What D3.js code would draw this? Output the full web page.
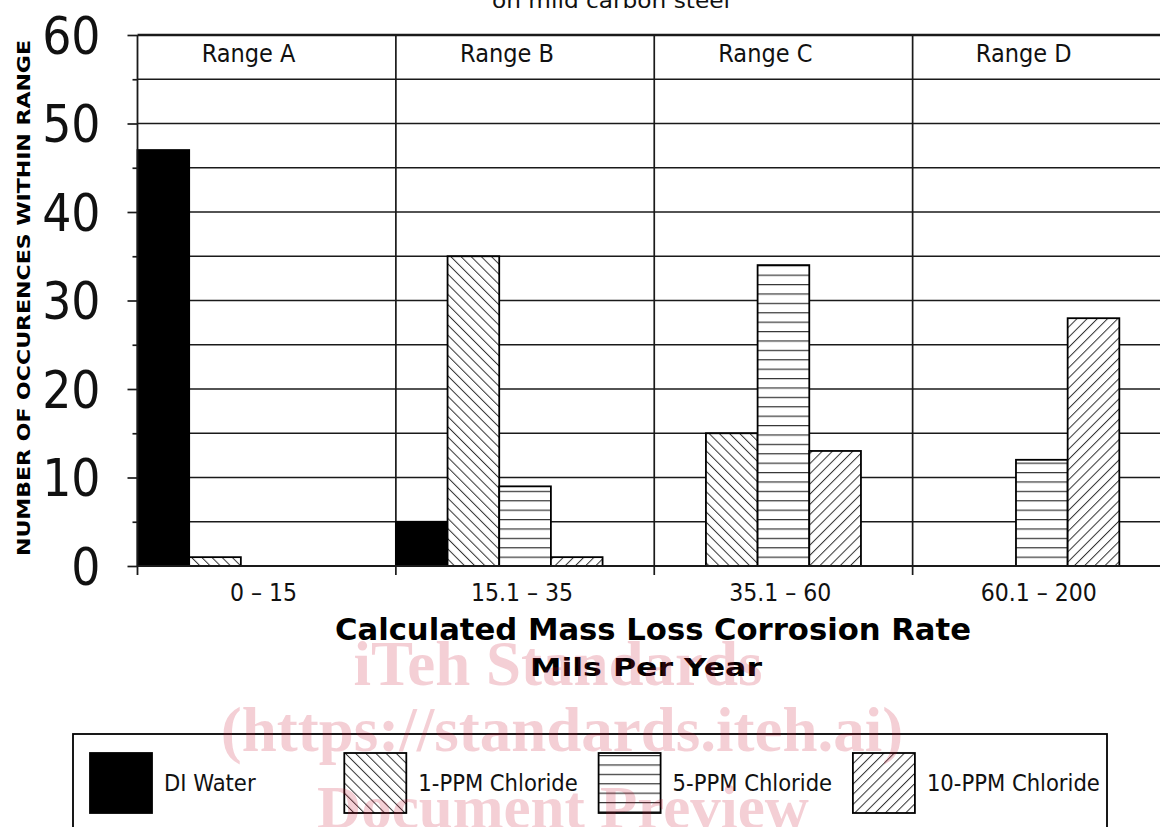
<!DOCTYPE html>
<html>
<head>
<meta charset="utf-8">
<script src="https://cdn.jsdelivr.net/npm/d3@7"></script>
<style>
  html, body { margin: 0; padding: 0; background: #fff; }
  svg { display: block; }
</style>
</head>
<body>
<svg id="chart" width="1160" height="827" font-family="'DejaVu Sans Condensed', 'DejaVu Sans', sans-serif"></svg>
<script>
// ---- data ----
const categories = ["Range A", "Range B", "Range C", "Range D"];
const rateLabels = ["0 \u2013 15", "15.1 \u2013 35", "35.1 \u2013 60", "60.1 \u2013 200"];
const seriesNames = ["DI Water", "1-PPM Chloride", "5-PPM Chloride", "10-PPM Chloride"];
const diWater   = [47, 5, 0, 0];
const ppm1      = [1, 35, 15, 0];
const ppm5      = [0, 9, 34, 12];
const ppm10     = [0, 1, 13, 28];
const yTicks    = [0, 10, 20, 30, 40, 50, 60];
const yMinorTicks = [5, 15, 25, 35, 45, 55];
const titleText = "on mild carbon steel";
const xTitle = "Calculated Mass Loss Corrosion Rate";
const xSubTitle = "Mils Per Year";
const yTitle = "NUMBER OF OCCURENCES WITHIN RANGE";
const watermark = ["iTeh Standards", "(https://standards.iteh.ai)", "Document Preview"];

const seriesValues = [diWater, ppm1, ppm5, ppm10];
const fills = ["#000", "url(#p1)", "url(#p5)", "url(#p10)"];

const svg = d3.select("#chart");
const W = 1160;
const pLeft = 137.5, pRight = 1171, pTop = 35, pBottom = 566;

const x = d3.scaleBand().domain(categories).range([pLeft, pRight]).padding(0);
const bw = x.bandwidth();
const xs = d3.scaleBand().domain(seriesNames).range([0, bw * 0.8]).padding(0);
const y = d3.scaleLinear().domain([0, 60]).range([pBottom, pTop]);

// ---- patterns ----
const defs = svg.append("defs");
function diag(id, angle, sp) {
  const p = defs.append("pattern").attr("id", id)
    .attr("patternUnits", "userSpaceOnUse")
    .attr("width", sp).attr("height", sp)
    .attr("patternTransform", `rotate(${angle})`);
  p.append("rect").attr("width", sp).attr("height", sp).attr("fill", "#fff");
  p.append("line").attr("x1", 0.5).attr("y1", 0).attr("x2", 0.5).attr("y2", sp)
    .attr("stroke", "#333").attr("stroke-width", 1);
}
diag("p1", -45, 7.2);
diag("p10", 45, 7.2);
{
  const sp = 9.4;
  const p = defs.append("pattern").attr("id", "p5")
    .attr("patternUnits", "userSpaceOnUse")
    .attr("width", 10).attr("height", sp)
    .attr("y", pBottom);
  p.append("rect").attr("width", 10).attr("height", sp).attr("fill", "#fff");
  p.append("line").attr("x1", 0).attr("x2", 10).attr("y1", 0.6).attr("y2", 0.6)
    .attr("stroke", "#333").attr("stroke-width", 1.2);
}

// ---- title (cut off at top) ----
svg.append("text").attr("x", 611).attr("y", 8).attr("text-anchor", "middle")
  .attr("font-size", 22).attr("textLength", 238).attr("lengthAdjust", "spacingAndGlyphs")
  .attr("fill", "#111").text(titleText);

// ---- gridlines ----
const grid = svg.append("g");
grid.selectAll("line.g").data(yMinorTicks.concat(yTicks.filter(v => v > 0)))
  .join("line")
  .attr("x1", pLeft).attr("x2", W)
  .attr("y1", d => y(d)).attr("y2", d => y(d))
  .attr("stroke", "#1a1a1a")
  .attr("stroke-width", d => d === 60 ? 2.6 : 1.7);

// vertical dividers
grid.selectAll("line.v").data(categories.slice(1)).join("line")
  .attr("x1", d => x(d)).attr("x2", d => x(d))
  .attr("y1", pTop).attr("y2", pBottom + 9)
  .attr("stroke", "#1a1a1a").attr("stroke-width", 1.7);

// ---- bars ----
const barData = [];
categories.forEach((c, ci) => {
  seriesNames.forEach((s, si) => {
    barData.push({ c, s, si, v: seriesValues[si][ci] });
  });
});
const bars = svg.append("g");
bars.selectAll("rect").data(barData.filter(d => d.v > 0)).join("rect")
  .attr("x", d => x(d.c) + xs(d.s))
  .attr("width", xs.bandwidth())
  .attr("y", d => y(d.v))
  .attr("height", d => y(0) - y(d.v))
  .attr("fill", d => fills[d.si])
  .attr("stroke", "#000").attr("stroke-width", 1.8);

// ---- axes ----
const yAxis = d3.axisLeft(y).tickValues(yTicks).tickSize(10).tickPadding(27)
  .tickFormat(d3.format("d"));
const gy = svg.append("g").attr("transform", `translate(${pLeft},0)`).call(yAxis);
gy.attr("font-family", null).attr("font-size", null);
gy.select(".domain").attr("stroke", "#1a1a1a").attr("stroke-width", 1.8)
  .attr("d", `M0,${pTop}V${pBottom + 9}`);
gy.selectAll(".tick line").attr("stroke", "#1a1a1a").attr("stroke-width", 1.7);
gy.selectAll(".tick text")
  .attr("font-family", "'DejaVu Sans Condensed', 'DejaVu Sans', sans-serif")
  .attr("font-size", 51).attr("fill", "#111").attr("dy", "0.36em");

const yMinor = d3.axisLeft(y).tickValues(yMinorTicks).tickSize(5).tickFormat("");
const gym = svg.append("g").attr("transform", `translate(${pLeft},0)`).call(yMinor);
gym.select(".domain").remove();
gym.selectAll(".tick line").attr("stroke", "#1a1a1a").attr("stroke-width", 1.7);

// x axis baseline
const xAxis = d3.axisBottom(x).tickSize(0).tickFormat("");
const gx = svg.append("g").attr("transform", `translate(0,${pBottom})`).call(xAxis);
gx.select(".domain").attr("stroke", "#1a1a1a").attr("stroke-width", 2)
  .attr("d", `M${pLeft},0H${W}`);
gx.selectAll(".tick").remove();

// rate labels under axis
svg.append("g").selectAll("text").data(rateLabels).join("text")
  .attr("x", (d, i) => x(categories[i]) + bw * 0.488)
  .attr("y", 601).attr("text-anchor", "middle")
  .attr("font-size", 24.5).attr("fill", "#111").text(d => d);

// range header labels
svg.append("g").selectAll("text").data(categories).join("text")
  .attr("x", d => x(d) + bw * 0.43)
  .attr("y", 62).attr("text-anchor", "middle")
  .attr("font-size", 25).attr("fill", "#111").text(d => d);

// axis titles
svg.append("text").attr("x", 653).attr("y", 640).attr("text-anchor", "middle")
  .attr("font-size", 31).attr("font-weight", "bold")
  .attr("textLength", 636).attr("lengthAdjust", "spacingAndGlyphs")
  .attr("fill", "#000").text(xTitle);
svg.append("text").attr("x", 646).attr("y", 676).attr("text-anchor", "middle")
  .attr("font-size", 25).attr("font-weight", "bold")
  .attr("textLength", 232).attr("lengthAdjust", "spacingAndGlyphs")
  .attr("fill", "#000").text(xSubTitle);
svg.append("text").attr("transform", "translate(30,298) rotate(-90)")
  .attr("text-anchor", "middle").attr("font-size", 18).attr("font-weight", "bold")
  .attr("textLength", 516).attr("lengthAdjust", "spacingAndGlyphs")
  .attr("fill", "#000").text(yTitle);

// ---- legend ----
const lg = svg.append("g");
lg.append("rect").attr("x", 73).attr("y", 734).attr("width", 1034).attr("height", 140)
  .attr("fill", "none").attr("stroke", "#000").attr("stroke-width", 1.8);
const li = lg.selectAll("g.item").data(seriesNames).join("g")
  .attr("transform", (d, i) => `translate(${90 + i * 254.3},753)`);
li.append("rect").attr("width", 62).attr("height", 60)
  .attr("fill", (d, i) => fills[i]).attr("stroke", "#000").attr("stroke-width", 1.8);
li.append("text").attr("x", 74).attr("y", 38).attr("font-size", 23.5)
  .attr("fill", "#111").text(d => d);

// ---- watermark ----
const wm = svg.append("g")
  .attr("font-family", "'Liberation Serif', 'Times New Roman', serif")
  .attr("font-weight", "bold").attr("fill", "#c8102e").attr("fill-opacity", 0.2)
  .attr("text-anchor", "middle");
const wmY = [685, 751, 828];
const wmX = [558, 562, 563];
const wmSize = [63, 63, 61];
wm.selectAll("text").data(watermark).join("text")
  .attr("x", (d, i) => wmX[i]).attr("y", (d, i) => wmY[i])
  .attr("font-size", (d, i) => wmSize[i])
  .text(d => d);
</script>
</body>
</html>
